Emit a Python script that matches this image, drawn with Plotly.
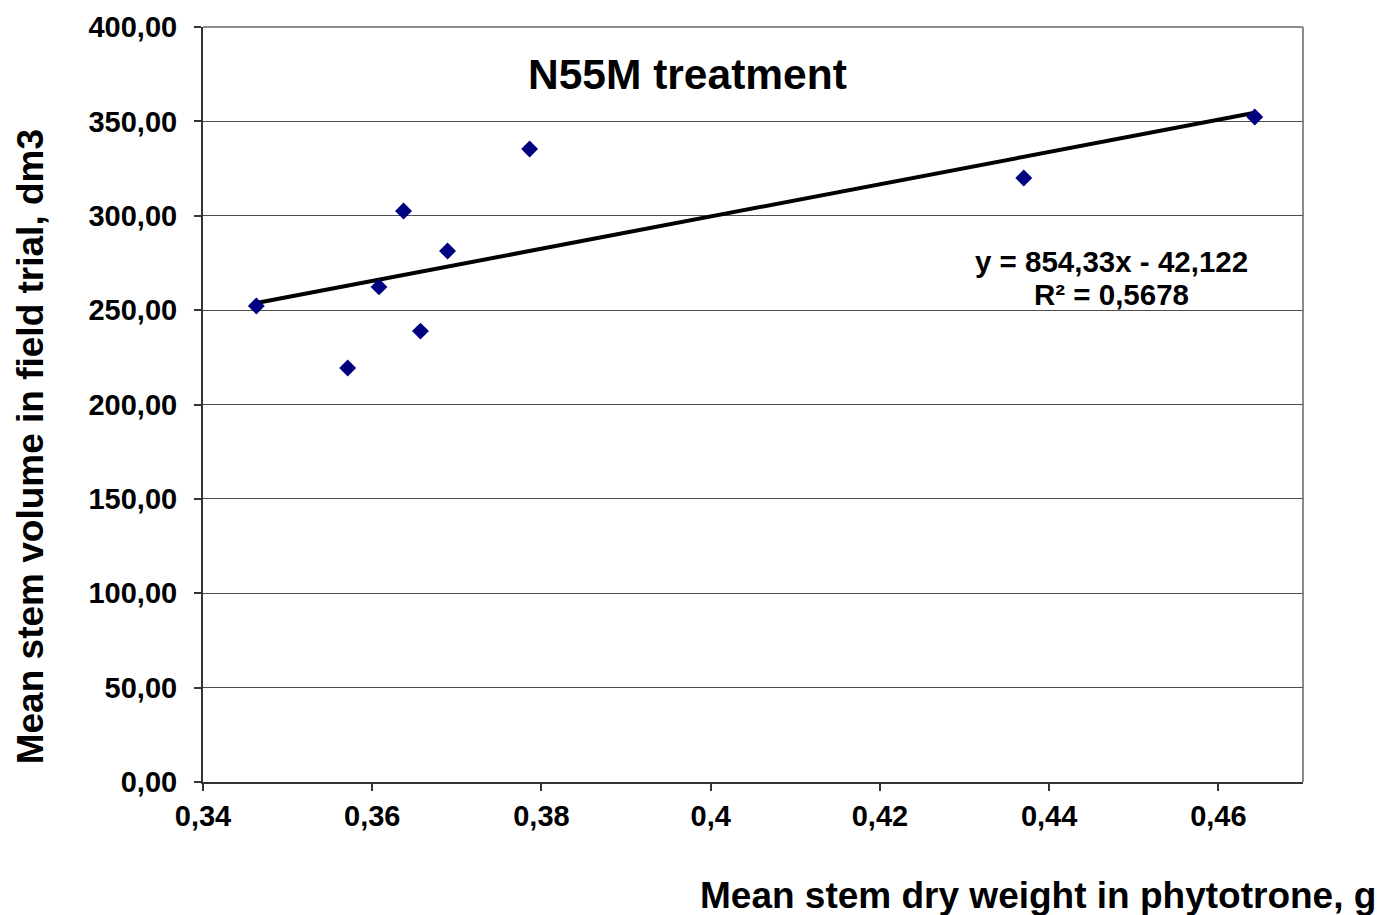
import plotly.graph_objects as go

# Data
stem_dry_weight = [0.3463, 0.3571, 0.3608, 0.3637, 0.3657, 0.3689, 0.3786, 0.4370, 0.4643]
stem_volume = [252.2, 219.3, 262.3, 302.5, 238.9, 281.3, 335.4, 320.0, 352.3]

slope = 854.33
intercept = -42.122
r_squared_label = "R² = 0,5678"
equation_label = "y = 854,33x - 42,122"

x_tickvals = [0.34, 0.36, 0.38, 0.40, 0.42, 0.44, 0.46]
x_ticktext = ["0,34", "0,36", "0,38", "0,4", "0,42", "0,44", "0,46"]
y_tickvals = [0, 50, 100, 150, 200, 250, 300, 350, 400]
y_ticktext = ["0,00", "50,00", "100,00", "150,00", "200,00", "250,00", "300,00", "350,00", "400,00"]

title_text = "N55M treatment"
x_title = "Mean stem dry weight in phytotrone, g"
y_title = "Mean stem volume in field trial, dm3"

FONT = "Liberation Sans, Arial, sans-serif"

x_line = [min(stem_dry_weight), max(stem_dry_weight)]
y_line = [slope * v + intercept for v in x_line]

fig = go.Figure()
fig.add_trace(go.Scatter(
    x=x_line, y=y_line, mode="lines",
    line=dict(color="black", width=4), showlegend=False, hoverinfo="skip"))
fig.add_trace(go.Scatter(
    x=stem_dry_weight, y=stem_volume, mode="markers",
    marker=dict(symbol="diamond", color="#000080", size=13, line=dict(width=0)),
    showlegend=False))

fig.update_layout(
    width=1375, height=907,
    margin=dict(l=195, r=80, t=19, b=133, autoexpand=False),
    paper_bgcolor="white", plot_bgcolor="white",
    font=dict(family=FONT, color="black", size=26, weight="bold"),
    xaxis=dict(
        range=[0.34, 0.47], tickvals=x_tickvals, ticktext=x_ticktext,
        showgrid=False, zeroline=False, automargin=False,
        showline=True, linecolor="#333333", linewidth=2,
        ticks="outside", ticklen=7, tickwidth=2, tickcolor="#333333",
        ticklabelstandoff=0,
        tickfont=dict(family=FONT, size=29, color="black", weight="bold"),
    ),
    yaxis=dict(
        range=[0, 400], tickvals=y_tickvals, ticktext=y_ticktext,
        showgrid=True, gridcolor="#4d4d4d", gridwidth=1, zeroline=False,
        automargin=False,
        showline=True, linecolor="#333333", linewidth=2,
        ticks="outside", ticklen=7, tickwidth=2, tickcolor="#333333",
        ticklabelstandoff=11,
        tickfont=dict(family=FONT, size=29, color="black", weight="bold"),
    ),
    shapes=[
        dict(type="line", xref="paper", yref="paper", x0=0, x1=1, y0=1, y1=1,
             line=dict(color="#8c8c8c", width=2), layer="below"),
        dict(type="line", xref="paper", yref="paper", x0=1, x1=1, y0=0, y1=1,
             line=dict(color="#8c8c8c", width=2), layer="below"),
    ],
    annotations=[
        dict(text=title_text, xref="paper", yref="paper", x=0.44, y=0.9377,
             xanchor="center", yanchor="middle", showarrow=False,
             font=dict(family=FONT, size=42.5, color="black", weight="bold")),
        dict(text=equation_label, x=0.4474, y=276, xanchor="center", yanchor="middle",
             showarrow=False, font=dict(family=FONT, size=29.5, color="black", weight="bold")),
        dict(text=r_squared_label, x=0.4474, y=258.5, xanchor="center", yanchor="middle",
             showarrow=False, font=dict(family=FONT, size=29.5, color="black", weight="bold")),
        dict(text=x_title, xref="paper", yref="paper", x=1.068, y=-0.1497,
             xanchor="right", yanchor="middle", showarrow=False,
             font=dict(family=FONT, size=37, color="black", weight="bold")),
        dict(text=y_title, xref="paper", yref="paper", x=-0.157, y=0.4437,
             xanchor="center", yanchor="middle", textangle=-90, showarrow=False,
             font=dict(family=FONT, size=37, color="black", weight="bold")),
    ],
)

fig.write_html("out.html")
